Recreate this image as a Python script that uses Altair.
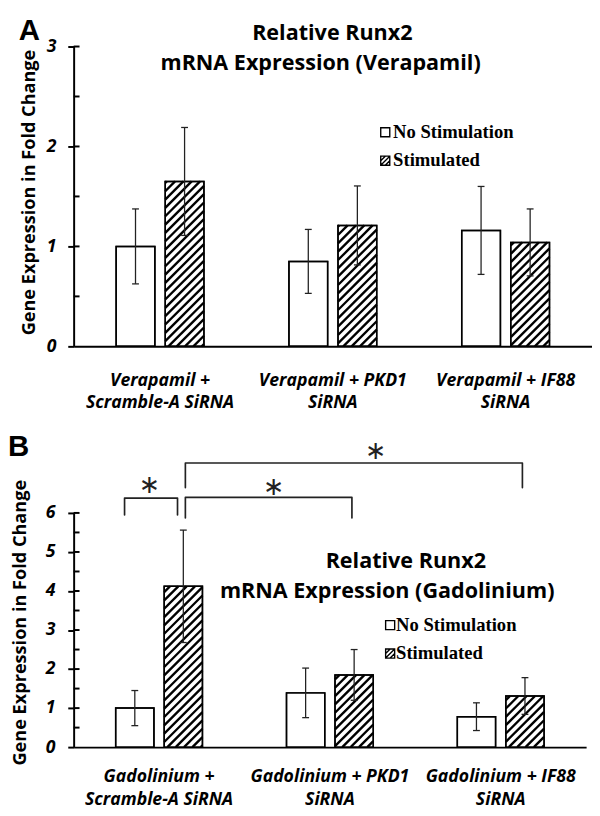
import math
import altair as alt
import pandas as pd

# ---------------- data ----------------
groups_a = ["Verapamil +\nScramble-A SiRNA", "Verapamil + PKD1\nSiRNA", "Verapamil + IF88\nSiRNA"]
nostim_a = [1.00, 0.85, 1.16]
nostim_a_err = [0.375, 0.32, 0.44]
stim_a = [1.65, 1.21, 1.04]
stim_a_err = [0.54, 0.395, 0.335]

groups_b = ["Gadolinium +\nScramble-A SiRNA", "Gadolinium + PKD1\nSiRNA", "Gadolinium + IF88\nSiRNA"]
nostim_b = [1.00, 1.39, 0.78]
nostim_b_err = [0.45, 0.635, 0.355]
stim_b = [4.12, 1.85, 1.31]
stim_b_err = [1.44, 0.65, 0.47]

series = ["No Stimulation", "Stimulated"]
title_a = ["Relative Runx2", "mRNA Expression (Verapamil)"]
title_b = ["Relative Runx2", "mRNA Expression (Gadolinium)"]
ytitle = "Gene Expression in Fold Change"

# significance brackets in panel B
br_x1 = [-0.202, 0.154, 0.154]
br_x2 = [0.108, 1.129, 2.127]
br_top = [6.38, 6.40, 7.28]
br_low1 = [5.95, 5.87, 6.65]
br_low2 = [5.95, 5.87, 6.65]
star_x = [-0.058, 0.670, 1.267]
star_y = [6.70, 6.65, 7.58]

SANS = "Open Sans"
SERIF = "Liberation Serif"

OFF = 0.142     # bar offset from group centre (x units)
HALF = 0.112    # half bar width (x units)


def panel(groups, ns, ns_err, st, st_err, ymax, W, H, titles, tpos, legpos, letter, letter_dx, letter_dy,
          ytitle_pos, lab_dy, ytick_pad, brackets=False):
    kx = W / 3.0
    ky = H / ymax
    rows = []
    for i in range(3):
        for s, vals, errs, off in ((series[0], ns, ns_err, -OFF), (series[1], st, st_err, OFF)):
            xc = i + off
            rows.append(dict(series=s, xc=xc, xl=xc - HALF, xr=xc + HALF, value=vals[i], base=0.0,
                             lo=vals[i] - errs[i], hi=vals[i] + errs[i],
                             capl=xc - 3.5 / kx, capr=xc + 3.5 / kx))
    df = pd.DataFrame(rows)

    # diagonal hatching inside "Stimulated" bars (45 degrees in pixel space)
    period = 8.5
    hrows = []
    for r in rows:
        if r["series"] != series[1]:
            continue
        u0, u1, hh = r["xl"] * kx, r["xr"] * kx, r["value"] * ky
        k = math.floor((-u1) / period) * period
        while k <= hh - u0:
            lo_u = max(u0, -k)
            hi_u = min(u1, hh - k)
            if hi_u > lo_u:
                hrows.append(dict(x=lo_u / kx, y=(lo_u + k) / ky, x2=hi_u / kx, y2=(hi_u + k) / ky))
            k += period
    hdf = pd.DataFrame(hrows)

    xs = alt.Scale(domain=[-0.5, 2.5], nice=False, zero=False)
    ys = alt.Scale(domain=[0, ymax], nice=False, zero=True)
    xax = alt.Axis(labels=False, ticks=False, domain=True, domainColor="black", domainWidth=2,
                   title=None, grid=False)
    yax = alt.Axis(values=list(range(0, ymax + 1)), format="d", tickSize=6, tickWidth=2, tickColor="black",
                   domainColor="black", domainWidth=2, labelFont=SANS, labelFontSize=18,
                   labelFontStyle="italic", labelFontWeight="bold", labelColor="black",
                   labelOverlap=False, labelPadding=ytick_pad, title=None, grid=False)

    def X(f):
        return alt.X(f, scale=xs, axis=xax)

    def Y(f):
        return alt.Y(f, scale=ys, axis=yax)

    base = alt.Chart(df)
    bars = base.mark_rect(fill="white", stroke="black", strokeWidth=1.5).encode(
        x=X("xl:Q"), x2="xr:Q", y=Y("value:Q"), y2="base:Q")
    hatch = alt.Chart(hdf).mark_rule(color="black", strokeWidth=2.4).encode(
        x=X("x:Q"), x2="x2:Q", y=Y("y:Q"), y2="y2:Q")
    outline = base.mark_rect(fillOpacity=0, stroke="black", strokeWidth=1.5).encode(
        x=X("xl:Q"), x2="xr:Q", y=Y("value:Q"), y2="base:Q")
    evert = base.mark_rule(color="#222", strokeWidth=1.3).encode(x=X("xc:Q"), y=Y("lo:Q"), y2="hi:Q")
    ecap_hi = base.mark_rule(color="#222", strokeWidth=1.3).encode(x=X("capl:Q"), x2="capr:Q", y=Y("hi:Q"))
    ecap_lo = base.mark_rule(color="#222", strokeWidth=1.3).encode(x=X("capl:Q"), x2="capr:Q", y=Y("lo:Q"))

    # inward tick marks (major + minor) on the y axis
    tick_vals = [v / 2 for v in range(1, 2 * ymax + 1)]
    tdf = pd.DataFrame({"v": tick_vals})
    inner = alt.Chart(tdf).mark_rule(color="black", strokeWidth=2).encode(
        y=Y("v:Q"), x=alt.value(0), x2=alt.value(6))

    # category labels
    gdf = pd.DataFrame({"g": [float(i) for i in range(3)], "label": groups})
    cats = alt.Chart(gdf).mark_text(font=SANS, fontSize=18, fontStyle="italic", fontWeight="bold",
                                    lineBreak="\n", lineHeight=23, baseline="alphabetic", align="center",
                                    color="black").encode(
        x=X("g:Q"), y=alt.value(H + lab_dy), text="label:N")

    layers = [bars, hatch, outline, evert, ecap_hi, ecap_lo, inner, cats]

    # title (two lines, each placed separately)
    for t, (tx, ty) in zip(titles, tpos):
        layers.append(alt.Chart(pd.DataFrame({"t": [t]})).mark_text(
            font=SANS, fontSize=22, fontWeight="bold", align="center", baseline="alphabetic",
            color="black").encode(text="t:N", x=alt.value(tx), y=alt.value(ty)))

    # legend (custom)
    sq_x, text_x, row_y = legpos
    shapes = ["square", "M-1,-1H1V1H-1Z M-1,1L1,-1 M-1,0L0,-1 M0,1L1,0"]
    for j, s in enumerate(series):
        layers.append(alt.Chart(pd.DataFrame({"s": [s]})).mark_point(
            shape=shapes[j], size=85, filled=False, stroke="black", strokeWidth=1.4, opacity=1).encode(
            x=alt.value(sq_x), y=alt.value(row_y[j] - 5.5)))
        layers.append(alt.Chart(pd.DataFrame({"s": [s]})).mark_text(
            font=SERIF, fontSize=19, fontWeight="bold", align="left", baseline="alphabetic",
            color="black").encode(text="s:N", x=alt.value(text_x), y=alt.value(row_y[j])))

    # panel letter
    layers.append(alt.Chart(pd.DataFrame({"t": [letter]})).mark_text(
        font="Liberation Sans", fontSize=30, fontWeight="bold", align="left", baseline="top",
        color="black").encode(text="t:N", x=alt.value(letter_dx), y=alt.value(letter_dy)))

    # y axis title
    layers.append(alt.Chart(pd.DataFrame({"t": [ytitle]})).mark_text(
        font=SANS, fontSize=18.5, fontWeight="bold", angle=270, align="center", baseline="middle",
        color="black").encode(text="t:N", x=alt.value(ytitle_pos[0]), y=alt.value(ytitle_pos[1])))

    if brackets:
        prow = []
        for b in range(len(br_x1)):
            pts = [(br_x1[b], br_low1[b]), (br_x1[b], br_top[b]), (br_x2[b], br_top[b]), (br_x2[b], br_low2[b])]
            for o, (px, py) in enumerate(pts):
                prow.append(dict(b=b, o=o, x=px, y=py))
        bdf = pd.DataFrame(prow)
        layers.append(alt.Chart(bdf).mark_line(color="#222", strokeWidth=1.7, strokeJoin="round",
                                               strokeCap="round").encode(
            x=X("x:Q"), y=Y("y:Q"), detail="b:N", order="o:Q"))
        sdf = pd.DataFrame({"x": star_x, "y": star_y, "t": ["\u2217"] * 3})
        layers.append(alt.Chart(sdf).mark_text(font="DejaVu Sans", fontSize=26, color="#222",
                                               align="center", baseline="middle").encode(
            x=X("x:Q"), y=Y("y:Q"), text="t:N"))

    return alt.layer(*layers).properties(width=W, height=H)


chart_a = panel(groups_a, nostim_a, nostim_a_err, stim_a, stim_a_err, 3, 529, 306,
                title_a, [(264, -7), (252, 24)], (318, 326, [93, 122]), "A", -56, -31,
                (-45, 149), 40, 12)
chart_b = panel(groups_b, nostim_b, nostim_b_err, stim_b, stim_b_err, 6, 523, 239,
                title_b, [(339, 56), (320, 87)], (323, 329, [120, 149]), "B", -67, -82,
                (-55, 112), 36, 13, brackets=True)

chart = alt.vconcat(chart_a, chart_b, spacing=21).properties(padding=0).configure_view(stroke=None)

chart.save("out.html", embed_options={"renderer": "svg", "actions": False})
